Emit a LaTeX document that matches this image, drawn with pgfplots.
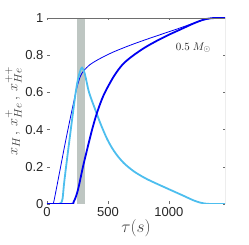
\documentclass[border=0pt]{standalone}
\usepackage{fontspec}
\setmainfont{Liberation Sans}
\usepackage{pgfplots}
\pgfplotsset{compat=1.18}
\definecolor{thickblue}{RGB}{0,0,240}
\definecolor{lightblue}{RGB}{77,190,238}
\definecolor{band}{RGB}{190,198,194}
\definecolor{axgray}{RGB}{110,110,110}
\begin{document}
\begin{tikzpicture}
\begin{axis}[
  at={(0,0)}, anchor=south west,
  scale only axis, width=178pt, height=186pt,
  xmin=0, xmax=1460, ymin=0, ymax=1,
  xtick={0,500,1000}, ytick={0,0.2,0.4,0.6,0.8,1},
  xticklabels={0,500,1000},
  yticklabels={0,0.2,0.4,0.6,0.8,1},
  /pgf/number format/assume math mode=true,
  tick label style={font=\fontsize{13}{15}\selectfont, text=black!85},
  axis line style={draw=none},
  tick style={axgray, line width=0.4pt},
  tick align=inside, major tick length=2.5pt,
  xlabel={$\tau(s)$}, ylabel={$x_H\,,\, x^+_{He}\,,\, x^{++}_{He}$},
  label style={text=black!75},
  xlabel style={font=\fontsize{19}{21}\selectfont, yshift=4pt},
  ylabel style={font=\fontsize{15}{17}\selectfont, yshift=-3pt},
  clip=true,
]
\fill[band] (axis cs:250,0) rectangle (axis cs:310,1);
\addplot[thickblue, line width=0.8pt, smooth] coordinates {
(0,0) (45,0) (55,0.01) (100,0.16) (150,0.33) (205,0.505) (245,0.625) (273,0.685) (300,0.715) (350,0.748) (410,0.773) (480,0.797) (547,0.818) (680,0.853) (820,0.886) (950,0.915) (1050,0.937) (1150,0.96) (1250,0.983) (1336,0.997) (1460,1)};
\addplot[lightblue, line width=1.8pt, smooth] coordinates {
(0,0) (95,0) (115,0.005) (128,0.03) (140,0.11) (164,0.24) (205,0.45) (240,0.62) (265,0.70) (287,0.733) (310,0.70) (345,0.60) (400,0.50) (440,0.43) (489,0.355) (530,0.305) (571,0.265) (630,0.22) (707,0.178) (780,0.148) (844,0.126) (981,0.085) (1117,0.045) (1200,0.02) (1254,0.008) (1300,0.002) (1350,0) (1460,0)};
\addplot[thickblue, line width=1.8pt, smooth] coordinates {
(0,0) (195,0) (219,0.012) (240,0.045) (260,0.093) (295,0.2) (328,0.29) (370,0.40) (410,0.49) (465,0.586) (547,0.685) (620,0.75) (700,0.795) (800,0.84) (900,0.877) (1000,0.91) (1090,0.937) (1200,0.97) (1280,0.99) (1350,0.999) (1460,1)};
\node[font=\fontsize{11}{13}\selectfont, text=black!85] at (axis cs:1200,0.84) {$0.5\ M_\odot$};
\draw[axgray, line width=0.6pt] (rel axis cs:0,1) -- (rel axis cs:1,1) -- (rel axis cs:1,0);
\end{axis}
\pgfresetboundingbox
\path (-47pt,-41pt) rectangle (202pt,204pt);
\end{tikzpicture}
\end{document}
